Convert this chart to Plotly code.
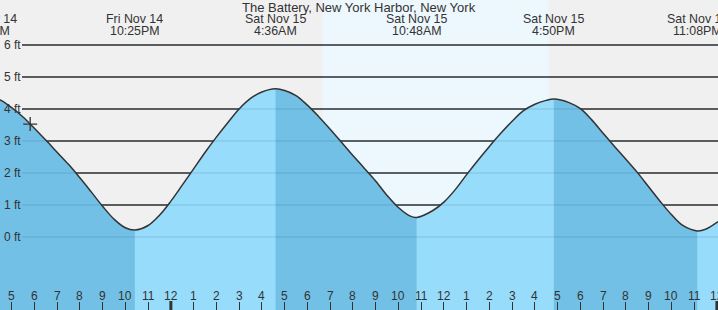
import plotly.graph_objects as go
from datetime import datetime, timedelta

# ---------------- data ----------------
title_text = "The Battery, New York Harbor, New York"

curve_time = [
    "2025-11-14 15:58", "2025-11-14 16:30", "2025-11-14 17:00", "2025-11-14 17:30",
    "2025-11-14 18:00", "2025-11-14 18:30", "2025-11-14 19:00", "2025-11-14 19:30",
    "2025-11-14 20:00", "2025-11-14 20:30", "2025-11-14 21:00", "2025-11-14 21:30",
    "2025-11-14 22:00", "2025-11-14 22:25", "2025-11-14 23:00", "2025-11-14 23:30",
    "2025-11-15 00:00", "2025-11-15 00:30", "2025-11-15 01:00", "2025-11-15 01:30",
    "2025-11-15 02:00", "2025-11-15 02:30", "2025-11-15 03:00", "2025-11-15 03:30",
    "2025-11-15 04:00", "2025-11-15 04:36", "2025-11-15 05:00", "2025-11-15 05:30",
    "2025-11-15 06:00", "2025-11-15 06:30", "2025-11-15 07:00", "2025-11-15 07:30",
    "2025-11-15 08:00", "2025-11-15 08:30", "2025-11-15 09:00", "2025-11-15 09:30",
    "2025-11-15 10:00", "2025-11-15 10:30", "2025-11-15 10:48", "2025-11-15 11:30",
    "2025-11-15 12:00", "2025-11-15 12:30", "2025-11-15 13:00", "2025-11-15 13:30",
    "2025-11-15 14:00", "2025-11-15 14:30", "2025-11-15 15:00", "2025-11-15 15:30",
    "2025-11-15 16:00", "2025-11-15 16:30", "2025-11-15 16:50", "2025-11-15 17:30",
    "2025-11-15 18:00", "2025-11-15 18:30", "2025-11-15 19:00", "2025-11-15 19:30",
    "2025-11-15 20:00", "2025-11-15 20:30", "2025-11-15 21:00", "2025-11-15 21:30",
    "2025-11-15 22:00", "2025-11-15 22:30", "2025-11-15 23:08", "2025-11-15 23:30",
    "2025-11-16 00:03",
]
curve_ft = [
    4.37, 4.28, 4.04, 3.75,
    3.40, 3.03, 2.65, 2.27,
    1.85, 1.41, 0.96, 0.56,
    0.29, 0.22, 0.36, 0.68,
    1.12, 1.62, 2.13, 2.64,
    3.12, 3.57, 4.00, 4.33,
    4.53, 4.63, 4.58, 4.42,
    4.12, 3.76, 3.37, 2.96,
    2.55, 2.15, 1.75, 1.30,
    0.92, 0.66, 0.61, 0.82,
    1.09, 1.48, 1.95, 2.40,
    2.83, 3.24, 3.62, 3.95,
    4.15, 4.27, 4.31, 4.20,
    4.01, 3.66, 3.24, 2.83,
    2.43, 2.02, 1.57, 1.12,
    0.70, 0.36, 0.19, 0.24,
    0.48,
]

event_time = ["2025-11-14 15:58", "2025-11-14 22:25", "2025-11-15 04:36",
              "2025-11-15 10:48", "2025-11-15 16:50", "2025-11-15 23:08"]
event_day = ["Fri Nov 14", "Fri Nov 14", "Sat Nov 15", "Sat Nov 15", "Sat Nov 15", "Sat Nov 15"]
event_clock = ["3:58PM", "10:25PM", "4:36AM", "10:48AM", "4:50PM", "11:08PM"]
event_kind = ["high", "low", "high", "low", "high", "low"]

now_time = "2025-11-14 17:49"
now_ft = 3.53

sunrise = "2025-11-15 06:41"
sunset = "2025-11-15 16:37"

y_tick_vals = [0, 1, 2, 3, 4, 5, 6]
y_tick_text = ["0 ft", "1 ft", "2 ft", "3 ft", "4 ft", "5 ft", "6 ft"]

hour_tick_start = "2025-11-14 17:00"
hour_tick_text = ["5", "6", "7", "8", "9", "10", "11", "12", "1", "2", "3", "4",
                  "5", "6", "7", "8", "9", "10", "11", "12", "1", "2", "3", "4",
                  "5", "6", "7", "8", "9", "10", "11", "12"]
midnights = ["2025-11-15 00:00", "2025-11-16 00:00"]

x_range = ["2025-11-14 16:29:24", "2025-11-16 00:02:53"]
y_range = [-2.281, 7.406]

# ---------------- style ----------------
FONT = "Liberation Sans, Arial, sans-serif"
TXT = "#333333"
NIGHT = "#f0f0f0"
DAY = "#edf7fe"
DARK_FILL = "#72c0e5"
LIGHT_FILL = "#97dcfb"
BOTTOM = -2.6

fmt = "%Y-%m-%d %H:%M"
t0 = datetime.strptime(x_range[0], "%Y-%m-%d %H:%M:%S")
t1 = datetime.strptime(x_range[1], "%Y-%m-%d %H:%M:%S")


def frac(ts):
    t = datetime.strptime(ts, fmt)
    return (t - t0).total_seconds() / (t1 - t0).total_seconds()


start = datetime.strptime(hour_tick_start, fmt)
hour_tick_vals = [(start + timedelta(hours=i)).strftime(fmt) for i in range(len(hour_tick_text))]

SPL = dict(shape="spline", smoothing=1.0)

fig = go.Figure()

# full (rising-colour) fill
fig.add_trace(go.Scatter(x=[curve_time[0], curve_time[-1]], y=[BOTTOM, BOTTOM], mode="lines",
                         line=dict(width=0), hoverinfo="skip", showlegend=False))
fig.add_trace(go.Scatter(x=curve_time, y=curve_ft, mode="lines", line=dict(width=0, **SPL),
                         fill="tonexty", fillcolor=LIGHT_FILL, hoverinfo="skip", showlegend=False))

# falling segments (high -> low) in dark colour
idx = [curve_time.index(e) for e in event_time]
for k in range(len(idx) - 1):
    if event_kind[k] == "high":
        a, b = idx[k], idx[k + 1]
        xs = curve_time[a:b + 1]
        ys = curve_ft[a:b + 1]
        fig.add_trace(go.Scatter(x=[xs[0], xs[-1]], y=[BOTTOM, BOTTOM], mode="lines",
                                 line=dict(width=0), hoverinfo="skip", showlegend=False))
        fig.add_trace(go.Scatter(x=xs, y=ys, mode="lines", line=dict(width=0, **SPL),
                                 fill="tonexty", fillcolor=DARK_FILL, hoverinfo="skip", showlegend=False))

# tide line
fig.add_trace(go.Scatter(x=curve_time, y=curve_ft, mode="lines",
                         line=dict(color="#333333", width=1.5, **SPL),
                         hoverinfo="skip", showlegend=False))
# current time marker
fig.add_trace(go.Scatter(x=[now_time], y=[now_ft], mode="markers",
                         marker=dict(symbol="cross-thin", size=10, line=dict(width=1.3, color="#333333")),
                         hoverinfo="skip", showlegend=False))

shapes = []
# daylight band
shapes.append(dict(type="rect", xref="x", yref="paper", x0=sunrise, x1=sunset, y0=0, y1=1,
                   fillcolor=DAY, line=dict(width=0), layer="below"))
grid_x0 = 22 / 718
for v in y_tick_vals:
    shapes.append(dict(type="line", xref="paper", yref="y", x0=grid_x0, x1=1, y0=v, y1=v,
                       line=dict(color="#333333", width=1.3), layer="below"))
    shapes.append(dict(type="line", xref="paper", yref="y", x0=grid_x0, x1=1, y0=v, y1=v,
                       line=dict(color="rgba(0,40,80,0.10)", width=1.3), layer="above"))
for m in midnights:
    shapes.append(dict(type="line", xref="x", yref="paper", x0=m, x1=m, y0=0, y1=9 / 310,
                       line=dict(color="#333333", width=3), layer="above"))

ann = []
ann.append(dict(text=title_text, xref="paper", yref="paper", x=0.5, y=1 - 8 / 310,
                xanchor="center", yanchor="middle", showarrow=False,
                font=dict(family=FONT, size=13, color=TXT)))
for ts, d, c in zip(event_time, event_day, event_clock):
    fx = frac(ts)
    ann.append(dict(text=d, xref="paper", yref="paper", x=fx, y=1 - 19.5 / 310,
                    xanchor="center", yanchor="middle", showarrow=False,
                    font=dict(family=FONT, size=12.4, color=TXT)))
    ann.append(dict(text=c, xref="paper", yref="paper", x=fx, y=1 - 31.5 / 310,
                    xanchor="center", yanchor="middle", showarrow=False,
                    font=dict(family=FONT, size=12.4, color=TXT)))
for v, t in zip(y_tick_vals, y_tick_text):
    ann.append(dict(text=t, xref="paper", yref="y", x=2 / 718, y=v,
                    xanchor="left", yanchor="middle", showarrow=False,
                    font=dict(family=FONT, size=12, color=TXT)))
for v, t in zip(hour_tick_vals, hour_tick_text):
    ann.append(dict(text=t, xref="x", yref="paper", x=v, y=1 - 296 / 310,
                    xanchor="center", yanchor="middle", showarrow=False,
                    font=dict(family=FONT, size=12, color=TXT)))

fig.update_layout(
    width=718, height=310,
    margin=dict(l=0, r=0, t=0, b=0, pad=0),
    paper_bgcolor="white", plot_bgcolor=NIGHT,
    showlegend=False, hovermode=False,
    shapes=shapes, annotations=ann,
    xaxis=dict(type="date", range=x_range, showgrid=False, zeroline=False, showline=False,
               tickvals=hour_tick_vals, ticktext=hour_tick_text, showticklabels=False,
               ticks="inside", ticklen=8, tickwidth=1, tickcolor="#333333", fixedrange=True),
    yaxis=dict(range=y_range, showgrid=False, zeroline=False, showline=False,
               showticklabels=False, ticks="", fixedrange=True),
)

fig.write_html("out.html", config={"displayModeBar": False})
